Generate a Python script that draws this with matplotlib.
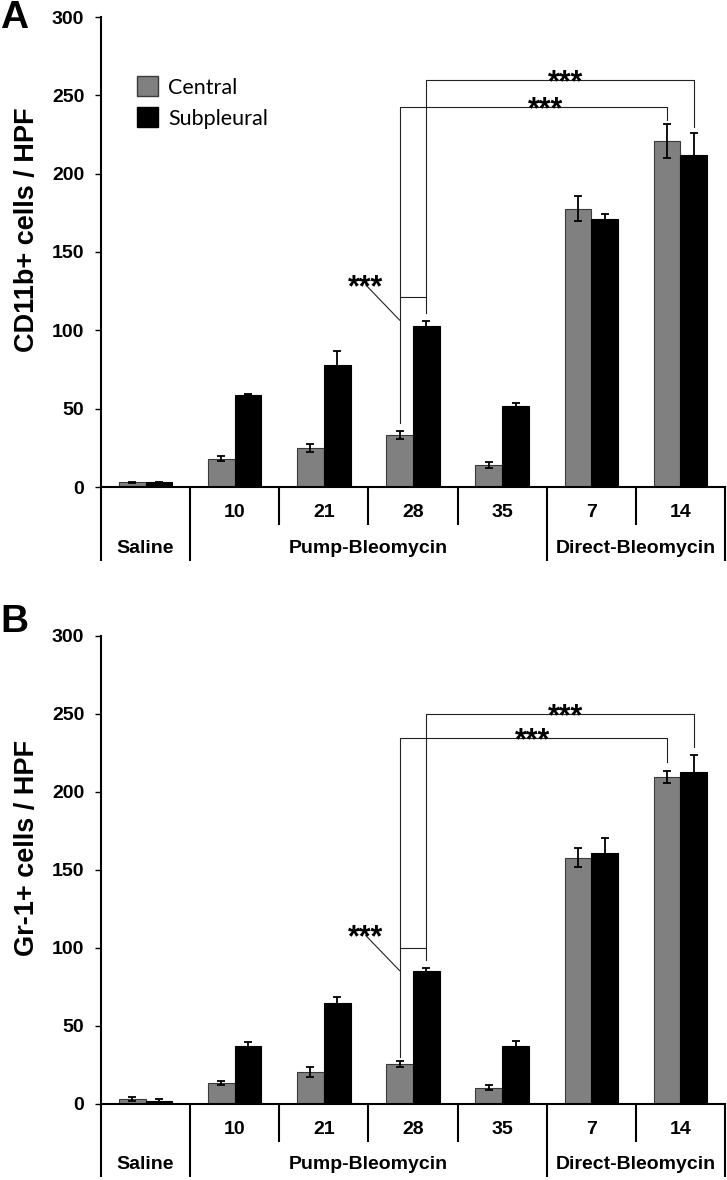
import matplotlib
matplotlib.use('Agg')
import matplotlib.pyplot as plt
from matplotlib.patches import Patch
import numpy as np

plt.rcParams['font.family'] = ['Liberation Sans', 'DejaVu Sans']

# categories
day_labels = ['', '10', '21', '28', '35', '7', '14']
treatments = ['Saline', 'Pump-Bleomycin', 'Direct-Bleomycin']
treatment_first = [0, 1, 5]   # first group index of each treatment
treatment_last = [0, 4, 6]    # last group index of each treatment
series = ['Central', 'Subpleural']

# panel A: CD11b+ cells / HPF
cd11b_central = [3, 18, 25, 33, 14, 177.5, 221]
cd11b_central_err = [0.5, 1.5, 2.5, 2.5, 2, 8, 11]
cd11b_sub = [3, 59, 78, 102.5, 52, 171, 212]
cd11b_sub_err = [0.3, 0.5, 9, 3.5, 1.5, 3, 14]

# panel B: Gr-1+ cells / HPF
gr1_central = [3.2, 13.5, 20.5, 25.5, 10.5, 158, 209.5]
gr1_central_err = [1, 1.5, 3.5, 2, 1.5, 6, 4]
gr1_sub = [2, 37, 64.5, 85, 37, 161, 213]
gr1_sub_err = [1, 2.5, 4, 2.5, 3.5, 9.5, 11]

# significance brackets (heights)
# [bracket height, left leg end, right leg end]
cd11b_low = [242.5, 41, 234]
cd11b_high = [259.5, 121, 230]
cd11b_small = [121, 111]
cd11b_star_x = [4.49, 4.71]
gr1_low = [234.5, 30, 219]
gr1_high = [250, 100, 229]
gr1_small = [100, 92]
gr1_star_x = [4.34, 4.71]

GRAY = '#808080'
EDGE = '#3a3a3a'
LINE = '#222222'
W = 0.3

fig = plt.figure(figsize=(7.27, 11.8), dpi=100)


def draw_panel(ax, central, central_err, sub, sub_err, low, high, small, star_x, ylabel, letter, letter_y):
    x = np.arange(len(day_labels))
    ekw = dict(ecolor='black', elinewidth=1.3, capsize=3, capthick=1.3)
    ax.bar(x - W / 2, central, W, yerr=central_err, color=GRAY, edgecolor=EDGE,
           linewidth=0.8, error_kw=ekw, zorder=2)
    ax.bar(x + W / 2, sub, W, yerr=sub_err, color='black', edgecolor='black',
           linewidth=0.8, error_kw=ekw, zorder=2)

    ax.set_xlim(-0.5, 6.5)
    ax.set_ylim(0, 300)
    ax.set_yticks(range(0, 301, 50))
    ax.set_xticks([])
    for s in ['top', 'right']:
        ax.spines[s].set_visible(False)
    ax.spines['left'].set_linewidth(1.5)
    ax.spines['bottom'].set_linewidth(1.5)
    ax.tick_params(axis='y', length=4, width=1, pad=8, labelsize=14)
    for t in ax.get_yticklabels():
        t.set_fontweight('bold')

    # brackets
    g28, g14 = 3, 6
    ax.plot([g28 - W / 2, g28 - W / 2, g14 - W / 2, g14 - W / 2],
            [low[1], low[0], low[0], low[2]], color=LINE, lw=0.8, zorder=1)
    ax.plot([g28 + W / 2, g28 + W / 2, g14 + W / 2, g14 + W / 2],
            [high[1], high[0], high[0], high[2]], color=LINE, lw=0.8, zorder=1)
    ax.plot([g28 - W / 2, g28 + W / 2, g28 + W / 2],
            [small[0], small[0], small[1]], color=LINE, lw=0.8, zorder=1)
    # pointer line from the small-bracket stars
    sx = 2.47
    ax.plot([sx, g28 - W / 2], [small[0] + 8, small[0] - 14.5], color=LINE, lw=0.8)
    star_kw = dict(textcoords='offset points', ha='center', va='baseline',
                   fontsize=22, fontweight='bold', annotation_clip=False)
    ax.annotate('***', xy=(sx, small[0] + 8), xytext=(0, -8), **star_kw)
    ax.annotate('***', xy=(star_x[0], low[0]), xytext=(0, -8), **star_kw)
    ax.annotate('***', xy=(star_x[1], high[0]), xytext=(0, -8), **star_kw)

    # category table under the axis
    tr = ax.get_xaxis_transform()
    short_d, long_d = -0.081, -0.157
    bounds = np.arange(len(day_labels) + 1) - 0.5
    long_bounds = [treatment_first[i] - 0.5 for i in range(len(treatments))] + [treatment_last[-1] + 0.5]
    for b in bounds:
        d = long_d if b in long_bounds else short_d
        ax.plot([b, b], [0, d], transform=tr, color='black', lw=1.5,
                clip_on=False, solid_capstyle='butt')
    for i, lab in enumerate(day_labels):
        ax.text(i, -0.055, lab, transform=tr, ha='center', va='center',
                fontsize=14, fontweight='bold')
    for name, a, b in zip(treatments, treatment_first, treatment_last):
        ax.text((a + b) / 2, -0.13, name, transform=tr, ha='center', va='center',
                fontsize=14, fontweight='bold')

    pos = ax.get_position()
    fig.text(27 / 727, pos.y0 + pos.height / 2 + 22 / 1180, ylabel,
             rotation=90, ha='center', va='center', fontsize=19.5, fontweight='bold')
    fig.text(0.0, letter_y, letter, ha='left', va='top', fontsize=28, fontweight='bold')


axA = fig.add_axes([101 / 727, 1 - 487 / 1180, 624 / 727, 470 / 1180])
draw_panel(axA, cd11b_central, cd11b_central_err, cd11b_sub, cd11b_sub_err,
           cd11b_low, cd11b_high, cd11b_small, cd11b_star_x,
           'CD11b+ cells / HPF', 'A', 1.0)

axB = fig.add_axes([101 / 727, 1 - 1104 / 1180, 624 / 727, 468 / 1180])
draw_panel(axB, gr1_central, gr1_central_err, gr1_sub, gr1_sub_err,
           gr1_low, gr1_high, gr1_small, gr1_star_x,
           'Gr-1+ cells / HPF', 'B', 1 - 604 / 1180)

handles = [Patch(facecolor=GRAY, edgecolor=EDGE, label=series[0]),
           Patch(facecolor='black', edgecolor='black', label=series[1])]
axA.legend(handles=handles, loc='upper left', bbox_to_anchor=(0.058, 0.874),
           frameon=False, borderpad=0, borderaxespad=0, handlelength=0.95,
           handleheight=1.05, handletextpad=0.5, labelspacing=0.45,
           prop={'family': ['Lato', 'DejaVu Sans'], 'size': 15.5})

fig.savefig('out.png', dpi=100)
